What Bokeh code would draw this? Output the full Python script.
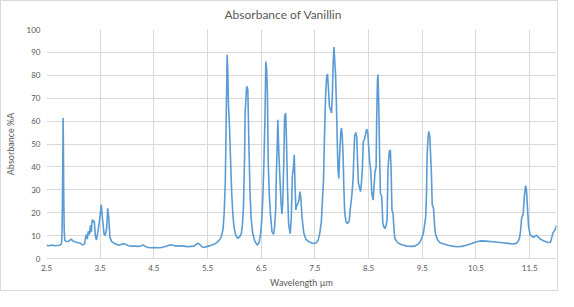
from bokeh.plotting import figure
from bokeh.models import Range1d, FixedTicker
from bokeh.embed import file_html
from bokeh.resources import INLINE

wavelength = [
    2.50, 2.55, 2.60, 2.65, 2.70, 2.75, 2.78, 2.79, 2.80, 2.81, 2.815, 2.82, 2.83, 2.84, 2.86,
    2.90, 2.93, 2.96, 2.99, 3.03, 3.08, 3.12, 3.15, 3.18, 3.21, 3.23, 3.245, 3.26, 3.28, 3.30,
    3.32, 3.335, 3.35, 3.37, 3.39, 3.41, 3.43, 3.46, 3.49, 3.52, 3.545, 3.57, 3.59, 3.62, 3.64,
    3.66, 3.68, 3.71, 3.75, 3.80, 3.85, 3.90, 3.94, 3.98, 4.03, 4.09, 4.15, 4.22, 4.27, 4.30,
    4.34, 4.39, 4.45, 4.52, 4.58, 4.64, 4.70, 4.76, 4.80, 4.83, 4.87, 4.92, 4.98, 5.04, 5.09,
    5.14, 5.19, 5.24, 5.27, 5.30, 5.33, 5.36, 5.40, 5.44, 5.50, 5.57, 5.63, 5.69, 5.73, 5.76,
    5.79, 5.81, 5.83, 5.84, 5.85, 5.86, 5.865, 5.875, 5.89, 5.91, 5.93, 5.95, 5.97, 5.99, 6.02,
    6.06, 6.10, 6.13, 6.15, 6.17, 6.19, 6.20, 6.22, 6.23, 6.25, 6.26, 6.27, 6.29, 6.31, 6.34,
    6.38, 6.43, 6.46, 6.49, 6.51, 6.53, 6.55, 6.57, 6.585, 6.60, 6.615, 6.63, 6.65, 6.67, 6.70,
    6.73, 6.75, 6.77, 6.78, 6.80, 6.81, 6.82, 6.835, 6.85, 6.87, 6.885, 6.90, 6.92, 6.935, 6.955,
    6.97, 6.99, 7.01, 7.04, 7.06, 7.08, 7.10, 7.115, 7.13, 7.145, 7.16, 7.18, 7.20, 7.22, 7.24,
    7.26, 7.29, 7.33, 7.39, 7.44, 7.48, 7.52, 7.56, 7.59, 7.62, 7.645, 7.66, 7.68, 7.70, 7.72,
    7.735, 7.75, 7.77, 7.79, 7.81, 7.825, 7.84, 7.855, 7.87, 7.885, 7.90, 7.915, 7.93, 7.945, 7.96,
    7.98, 7.995, 8.01, 8.025, 8.04, 8.055, 8.08, 8.11, 8.14, 8.16, 8.185, 8.21, 8.225, 8.24, 8.26,
    8.28, 8.29, 8.31, 8.33, 8.35, 8.37, 8.385, 8.40, 8.42, 8.45, 8.465, 8.485, 8.50, 8.52, 8.54,
    8.56, 8.585, 8.60, 8.62, 8.64, 8.65, 8.665, 8.675, 8.69, 8.705, 8.72, 8.745, 8.765, 8.79, 8.81,
    8.83, 8.845, 8.86, 8.885, 8.905, 8.92, 8.935, 8.955, 8.975, 8.99, 9.03, 9.06, 9.12, 9.21, 9.30,
    9.36, 9.42, 9.46, 9.50, 9.52, 9.545, 9.565, 9.58, 9.59, 9.605, 9.62, 9.64, 9.655, 9.67, 9.685,
    9.71, 9.73, 9.75, 9.79, 9.83, 9.90, 9.98, 10.06, 10.14, 10.23, 10.32, 10.42, 10.51, 10.60, 10.68,
    10.82, 11.00, 11.10, 11.19, 11.25, 11.28, 11.31, 11.33, 11.35, 11.38, 11.40, 11.425, 11.44, 11.46, 11.48,
    11.51, 11.54, 11.57, 11.60, 11.63, 11.66, 11.70, 11.77, 11.84, 11.89, 11.91, 11.93, 11.96, 11.98, 12.00,
]

absorbance = [
    5.8, 5.6, 5.9, 5.6, 5.7, 5.8, 6.5, 12, 32, 61.3, 48, 30, 12, 8, 7.5,
    7.4, 7.8, 8.5, 7.6, 7.3, 6.9, 6.8, 6.3, 5.9, 6.5, 9.5, 10.5, 8.5, 12, 10.5,
    14.5, 11.5, 17, 16, 16.5, 10, 8, 12, 17, 23.4, 17, 11, 10, 13, 21.9,
    18, 9.5, 7.5, 6.8, 6.2, 5.8, 6.2, 6.5, 6.1, 5.6, 5.4, 5.4, 5.3, 5.6, 5.9,
    5.3, 4.8, 4.7, 4.8, 4.7, 4.8, 5.1, 5.6, 5.9, 6.0, 5.7, 5.4, 5.5, 5.5, 5.3,
    5.1, 5.3, 5.4, 5.8, 6.4, 6.6, 6.0, 5.0, 4.9, 5.3, 5.8, 6.3, 7.3, 8.3, 9.8,
    13, 20, 33, 48, 65, 80, 89, 84, 67, 57, 42, 28.5, 20, 14, 10.5,
    8.8, 9.5, 11, 15, 23, 45, 63.5, 72, 75.2, 73.7, 62, 50, 30, 18, 11,
    7.5, 5.8, 7, 11, 17, 27, 42, 62, 86, 83, 72, 42, 28, 20, 11.7,
    10.5, 14, 22, 35, 52, 60.6, 52, 42, 34, 24, 19.5, 24, 42, 62, 63.5,
    52, 30, 15, 10.8, 18, 35.8, 40, 45.3, 32, 21.2, 23, 24, 25, 29.2, 26,
    18, 11.5, 8.5, 7.3, 6.8, 6.6, 6.8, 8, 11, 16, 28, 34, 55, 72, 79.6,
    80.5, 75, 66.4, 65, 63.5, 72, 85.4, 92.3, 86, 80, 67.9, 52, 38.7, 35, 45,
    54.7, 57, 53, 45, 30, 20, 16, 15.2, 16.5, 22, 27, 34.3, 45, 53.3, 55,
    53, 45, 33, 31, 29.2, 34, 40, 51, 51.8, 55, 56.5, 55, 49, 42, 38.7,
    28.5, 25.5, 31, 38, 40, 60, 78, 80.3, 66.4, 45, 28.5, 27, 15.3, 13.5, 13.1,
    15, 17, 38.7, 46.7, 47.4, 38, 21.2, 19.7, 12, 8.8, 7.2, 6.6, 6.0, 5.4, 5.3,
    5.4, 6.2, 7.3, 9.5, 11, 15, 18.5, 30, 44.5, 52, 55.5, 53.3, 45, 37.2, 23.4,
    21.9, 14, 10.2, 8, 6.9, 6.3, 5.8, 5.4, 5.1, 5.3, 5.8, 6.6, 7.3, 7.7, 7.6,
    7.3, 6.9, 6.6, 6.3, 6.6, 7.3, 8.8, 12, 17.5, 19.7, 27, 31.8, 30, 22, 13.9,
    10.2, 9.8, 9.2, 9.8, 10.2, 9.3, 8.5, 7.6, 7.0, 7.1, 9, 11, 12.2, 12.7, 14.5,
]

x_ticks = [2.5, 3.5, 4.5, 5.5, 6.5, 7.5, 8.5, 9.5, 10.5, 11.5]
y_ticks = [0, 10, 20, 30, 40, 50, 60, 70, 80, 90, 100]
title_text = "Absorbance of Vanillin"

FONT = "Lato"
TXT = "#595959"
GRID = "#D9D9D9"

p = figure(width=558, height=291, output_backend="svg", toolbar_location=None,
           x_range=Range1d(2.5, 12.0), y_range=Range1d(0, 100),
           min_border_left=43, min_border_right=3, min_border_top=28, min_border_bottom=34)

p.line(wavelength, absorbance, line_color="#5B9BD5", line_width=1.6)

p.title.text = title_text
p.title.align = "left"
p.title.offset = 178
p.title.vertical_align = "top"
p.title.standoff = 11
p.title.text_font = FONT
p.title.text_font_size = "12px"
p.title.text_font_style = "normal"
p.title.text_color = TXT

p.outline_line_color = None
p.background_fill_color = "white"
p.border_fill_color = "white"

p.xaxis.ticker = FixedTicker(ticks=x_ticks)
p.yaxis.ticker = FixedTicker(ticks=y_ticks)
p.xgrid.ticker = FixedTicker(ticks=x_ticks)
p.xgrid.grid_line_color = GRID
p.ygrid.grid_line_color = GRID

for ax in (p.xaxis, p.yaxis):
    ax.major_tick_line_color = None
    ax.minor_tick_line_color = None
    ax.major_tick_out = 0
    ax.major_tick_in = 0
    ax.minor_tick_out = 0
    ax.minor_tick_in = 0
    ax.major_label_text_font = FONT
    ax.major_label_text_font_size = "8px"
    ax.major_label_text_color = TXT
    ax.axis_label_text_font = FONT
    ax.axis_label_text_font_size = "9px"
    ax.axis_label_text_font_style = "normal"
    ax.axis_label_text_color = TXT

p.xaxis.axis_line_color = GRID
p.yaxis.axis_line_color = None
p.xaxis.axis_label = "Wavelength µm"
p.yaxis.axis_label = "Absorbance %A"
p.xaxis.major_label_standoff = 6
p.yaxis.major_label_standoff = 6
p.xaxis.axis_label_standoff = 3
p.yaxis.axis_label_standoff = 8

p.styles = {"border": "1px solid #D9D9D9"}

open("out.html", "w").write(file_html(p, INLINE))
